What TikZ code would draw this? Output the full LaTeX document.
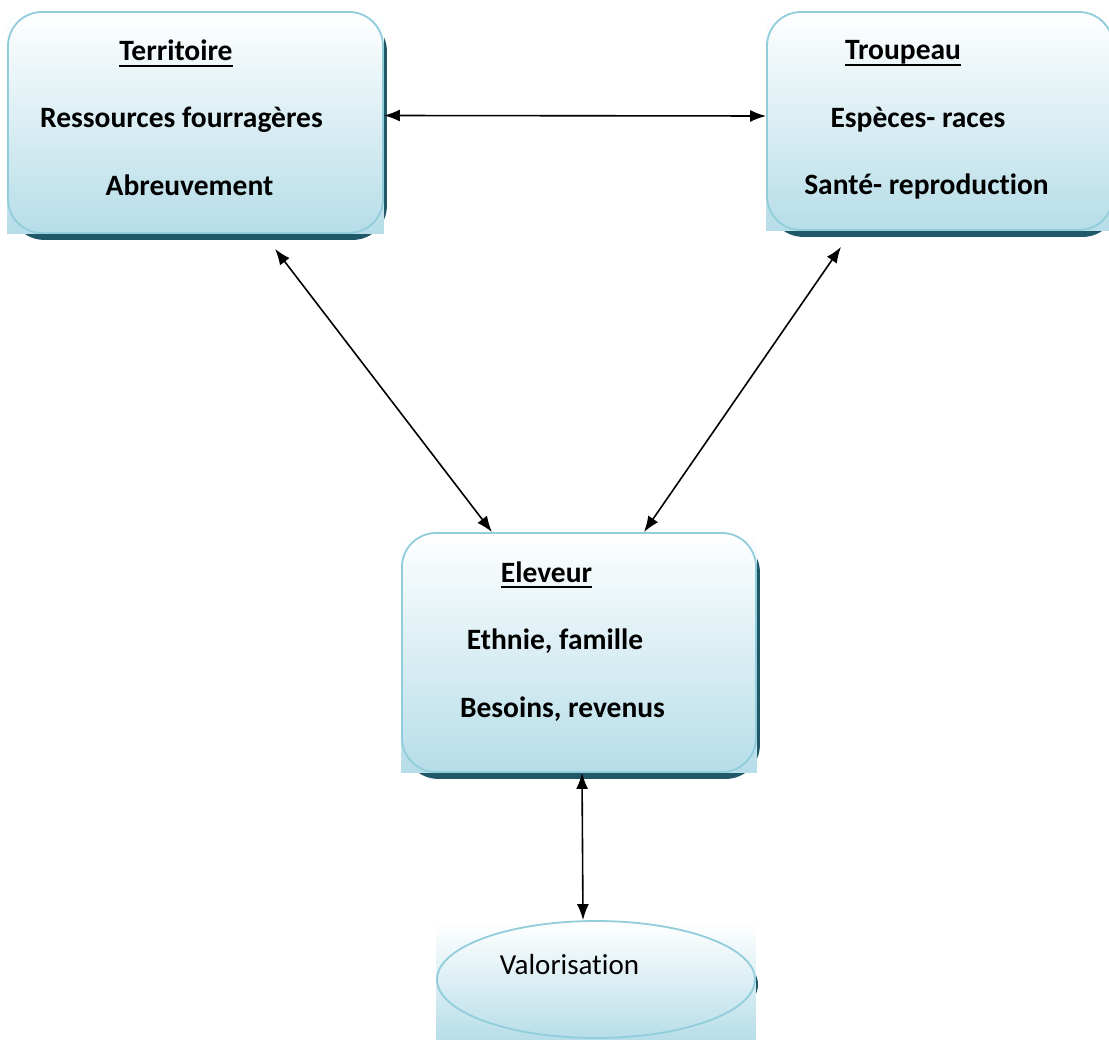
\documentclass[tikz,border=0pt]{standalone}
\usepackage{fontspec}
\setmainfont[Ligatures=NoCommon]{Carlito}
\usetikzlibrary{arrows.meta,shapes.geometric,backgrounds}
\definecolor{edgeblue}{HTML}{92CDDC}
\definecolor{fillblue}{HTML}{B6DDE8}
\definecolor{shadowteal}{HTML}{215868}
\newcommand{\ultitle}[1]{\setbox0\hbox{#1}\rlap{\rule[-6pt]{\wd0}{2pt}}\box0}
\begin{document}
\begin{tikzpicture}
[x=1pt,y=-1pt,
  boxdecorate/.style={shape=rectangle,rounded corners=34pt,draw=edgeblue,line width=1.8pt,inner sep=0pt},
  ovaldecorate/.style={shape=ellipse,draw=edgeblue,line width=1.8pt,inner sep=0pt,minimum width=318pt,minimum height=117pt},
  textdecorate/.style={anchor=base,inner sep=0pt,font=\fontsize{29.5}{35}\selectfont\bfseries},
  linedecorate/.style={{Latex[length=16pt,width=12pt]}-{Latex[length=16pt,width=12pt]},line width=1.6pt}]
\useasboundingbox (0,0) rectangle (1109,1040);
% boxes
\node (terr) at (195.5,122.5) [boxdecorate,minimum width=375pt,minimum height=221pt] {};
\node (troup) at (940,121) [boxdecorate,minimum width=346pt,minimum height=218pt] {};
\node (elev) at (579,652.5) [boxdecorate,minimum width=354pt,minimum height=239pt] {};
\node (val) at (596,979.5) [ovaldecorate] {};
% fill and shadow behind the boxes
\begin{pgfonlayer}{background}
\foreach \n in {terr,troup,elev}{
  \fill[shadowteal,rounded corners=34pt] ([shift={(3pt,-6pt)}]\n.north west) rectangle ([shift={(3pt,-6pt)}]\n.south east);
  \shade[top color=white,bottom color=fillblue] (\n.north west) rectangle (\n.south east);
}
\fill[shadowteal] ([shift={(3pt,-5pt)}]val.center) ellipse (159pt and 58.5pt);
\shade[top color=white,bottom color=fillblue] ([yshift=-2pt]val.west |- val.north) rectangle ([yshift=-3pt]val.east |- val.south);
\end{pgfonlayer}
% texts
\node (terrtitle) at (176,61) [textdecorate] {\ultitle{Territoire}};
\node (terr1) at (181.5,128) [textdecorate] {Ressources fourragères};
\node (terr2) at (189.5,196) [textdecorate] {Abreuvement};
\node (trouptitle) at (903,60) [textdecorate] {\ultitle{Troupeau}};
\node (troup1) at (918,128) [textdecorate] {Espèces- races};
\node (troup2) at (926.5,195) [textdecorate] {Santé- reproduction};
\node (elevtitle) at (546.5,582) [textdecorate] {\ultitle{Eleveur}};
\node (elev1) at (555,649) [textdecorate] {Ethnie, famille};
\node (elev2) at (562.5,717) [textdecorate] {Besoins, revenus};
\node (valtext) at (569.5,974) [textdecorate,font=\fontsize{29}{35}\selectfont] {Valorisation};
% arrows
\path
([yshift=7pt]terr.east) edge[linedecorate] ([yshift=5pt]troup.west)
([shift={(79.5pt,-15pt)}]terr.south) edge[linedecorate] ([xshift=-87pt]elev.north)
([shift={(-99pt,-16pt)}]troup.south) edge[linedecorate] ([xshift=65pt]elev.north)
([xshift=3pt]elev.south) edge[linedecorate] ([xshift=-13pt]val.north);
\end{tikzpicture}
\end{document}
